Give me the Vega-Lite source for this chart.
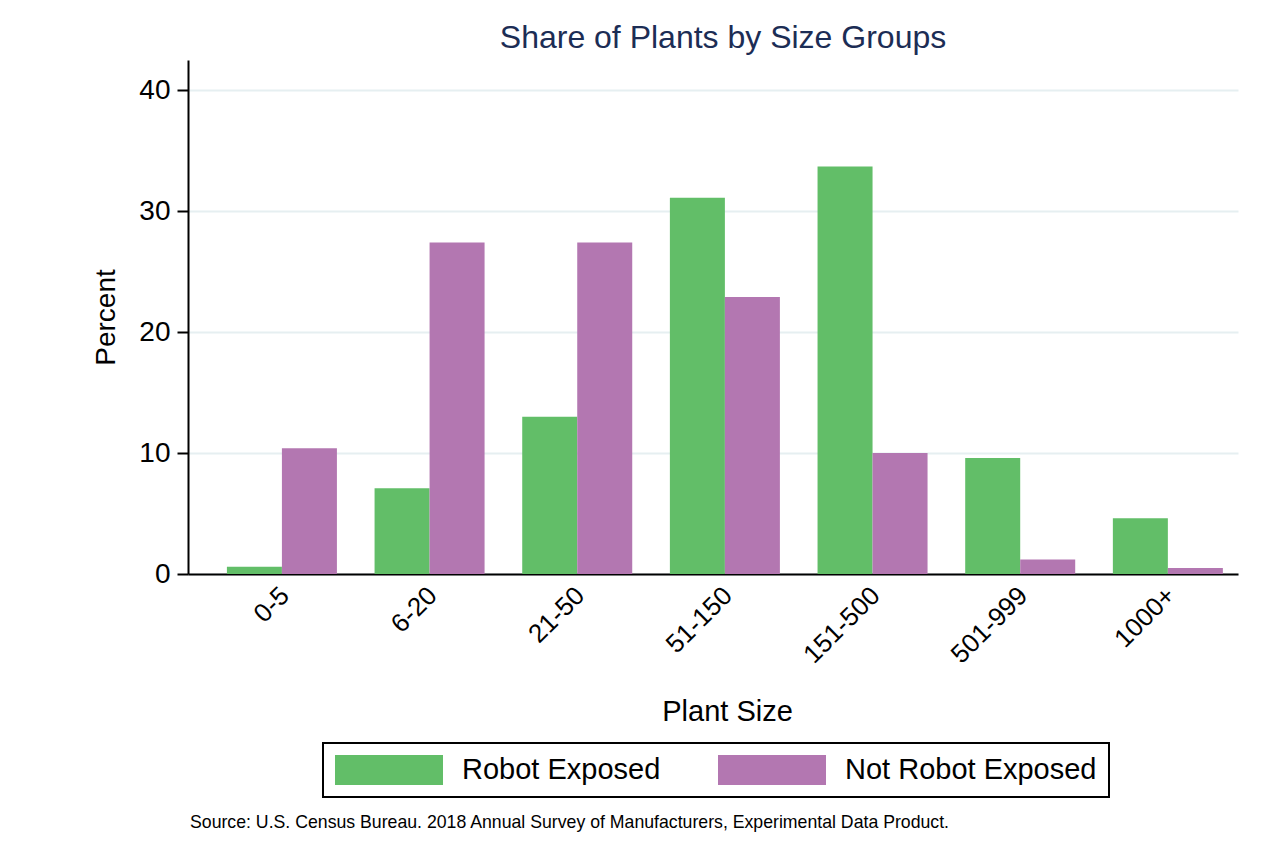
{
  "$schema": "https://vega.github.io/schema/vega-lite/v6.json",
  "padding": {"left": 92, "top": 22, "right": 5, "bottom": 5},
  "title": {
    "text": "Source: U.S. Census Bureau. 2018 Annual Survey of Manufacturers, Experimental Data Product.",
    "orient": "bottom",
    "anchor": "start",
    "frame": "group",
    "fontSize": 17.7,
    "fontWeight": "normal",
    "color": "black",
    "offset": 16,
    "dx": 2
  },
  "vconcat": [
    {
      "width": 1050,
      "height": 514,
      "title": {
        "text": "Share of Plants by Size Groups",
        "fontSize": 32,
        "fontWeight": "normal",
        "color": "#1c2d55",
        "anchor": "middle",
        "dx": 10,
        "offset": 5
      },
      "data": {
        "values": [
          {"size": "0-5", "group": "Robot Exposed", "pct": 0.6},
          {"size": "0-5", "group": "Not Robot Exposed", "pct": 10.4},
          {"size": "6-20", "group": "Robot Exposed", "pct": 7.1},
          {"size": "6-20", "group": "Not Robot Exposed", "pct": 27.4},
          {"size": "21-50", "group": "Robot Exposed", "pct": 13.0},
          {"size": "21-50", "group": "Not Robot Exposed", "pct": 27.4},
          {"size": "51-150", "group": "Robot Exposed", "pct": 31.1},
          {"size": "51-150", "group": "Not Robot Exposed", "pct": 22.9},
          {"size": "151-500", "group": "Robot Exposed", "pct": 33.7},
          {"size": "151-500", "group": "Not Robot Exposed", "pct": 10.0},
          {"size": "501-999", "group": "Robot Exposed", "pct": 9.6},
          {"size": "501-999", "group": "Not Robot Exposed", "pct": 1.2},
          {"size": "1000+", "group": "Robot Exposed", "pct": 4.6},
          {"size": "1000+", "group": "Not Robot Exposed", "pct": 0.5}
        ]
      },
      "mark": {"type": "bar"},
      "encoding": {
        "x": {
          "field": "size",
          "type": "nominal",
          "sort": null,
          "title": "Plant Size",
          "scale": {"paddingInner": 0.255, "paddingOuter": 0.183, "align": 0.72},
          "axis": {
            "labelAngle": -45,
            "labelFontSize": 26,
            "labelColor": "black",
            "labelPadding": 8,
            "labelOffset": -6,
            "ticks": false,
            "domainColor": "black",
            "domainWidth": 2,
            "titleFontSize": 29,
            "titleFontWeight": "normal",
            "titleColor": "black",
            "titlePadding": 30,
            "titleX": 539
          }
        },
        "xOffset": {
          "field": "group",
          "type": "nominal",
          "sort": ["Robot Exposed", "Not Robot Exposed"],
          "scale": {"paddingInner": 0, "paddingOuter": 0}
        },
        "y": {
          "field": "pct",
          "type": "quantitative",
          "title": "Percent",
          "scale": {"domain": [0, 42.5], "nice": false},
          "axis": {
            "values": [0, 10, 20, 30, 40],
            "labelFontSize": 28,
            "labelColor": "black",
            "labelPadding": 7,
            "tickSize": 11,
            "tickWidth": 2,
            "tickColor": "black",
            "domainColor": "black",
            "domainWidth": 2,
            "gridColor": "#e6eff1",
            "gridWidth": 2,
            "titleFontSize": 28,
            "titleFontWeight": "normal",
            "titleColor": "black",
            "titlePadding": 18
          }
        },
        "color": {
          "field": "group",
          "type": "nominal",
          "scale": {
            "domain": ["Robot Exposed", "Not Robot Exposed"],
            "range": ["#62be68", "#b377b1"]
          },
          "legend": {
            "orient": "none",
            "legendX": 135,
            "legendY": 683,
            "direction": "horizontal",
            "title": null,
            "symbolType": "M-1,-1H6.2V1H-1Z",
            "symbolSize": 900,
            "symbolStrokeWidth": 0,
            "symbolOpacity": 1,
            "labelFontSize": 29,
            "labelColor": "black",
            "labelOffset": 97,
            "labelLimit": 0,
            "columnPadding": 57,
            "padding": 12,
            "strokeColor": "black"
          }
        }
      }
    }
  ],
  "config": {
    "font": "Liberation Sans",
    "view": {"stroke": null},
    "axisX": {"grid": false},
    "legend": {"strokeWidth": 2}
  }
}
